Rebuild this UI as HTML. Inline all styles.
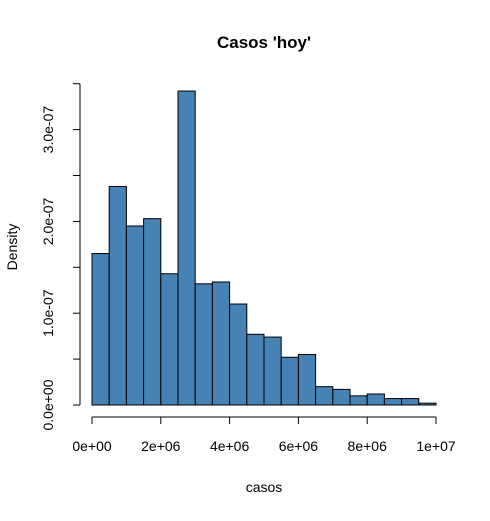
<!DOCTYPE html>
<html><head><meta charset="utf-8"><style>
body{margin:0;background:#fff;}
svg text{font-family:"Liberation Sans",sans-serif;fill:#000;}
</style></head><body>
<svg id="chart" width="490" height="516" xmlns="http://www.w3.org/2000/svg">
<text x="264" y="48" text-anchor="middle" font-size="17" font-weight="bold">Casos 'hoy'</text>
<text x="264" y="492" text-anchor="middle" font-size="14">casos</text>
<text transform="translate(17,247) rotate(-90)" text-anchor="middle" font-size="14">Density</text>
<g id="bars"></g><g id="xaxis"></g><g id="yaxis"></g>
</svg>
<script>
const binEdgesStart = 0;
const binWidth = 500000;
const densities = [1.65e-7,2.38e-7,1.95e-7,2.03e-7,1.43e-7,3.42e-7,1.32e-7,1.34e-7,1.10e-7,0.77e-7,0.74e-7,0.52e-7,0.55e-7,0.20e-7,0.17e-7,0.10e-7,0.12e-7,0.07e-7,0.07e-7,0.02e-7];
const xTicks = [0,2e6,4e6,6e6,8e6,1e7];
const xTickLabels = ["0e+00","2e+06","4e+06","6e+06","8e+06","1e+07"];
const yTicks = [0,0.5e-7,1e-7,1.5e-7,2e-7,2.5e-7,3e-7,3.5e-7];
const yTickLabels = {0:"0.0e+00",2:"1.0e-07",4:"2.0e-07",6:"3.0e-07"};

const x = v => 92 + v/1e7*344;
const y = v => 405 - v/1e-7*91.8;
const NS="http://www.w3.org/2000/svg";
function mk(tag,attrs,parent){const e=document.createElementNS(NS,tag);for(const k in attrs)e.setAttribute(k,attrs[k]);parent.appendChild(e);return e;}
const bars=document.getElementById('bars');
densities.forEach((d,i)=>{
  const x0=x(binEdgesStart+i*binWidth), x1=x(binEdgesStart+(i+1)*binWidth);
  const r=mk('rect',{x:x0,y:y(d),width:x1-x0,height:y(0)-y(d),fill:'#4682b4',stroke:'#000','stroke-width':1},bars);
  
  
});
const xa=document.getElementById('xaxis');


mk('line',{x1:x(xTicks[0]),x2:x(xTicks[xTicks.length-1]),y1:417,y2:417,stroke:'#000'},xa);
xTicks.forEach((t,i)=>{
  mk('line',{x1:x(t),x2:x(t),y1:417,y2:424,stroke:'#000'},xa);
  const tx=mk('text',{x:x(t),y:451,'text-anchor':'middle','font-size':14},xa);
  tx.textContent=xTickLabels[i];
  
  
});
const ya=document.getElementById('yaxis');


mk('line',{x1:80,x2:80,y1:y(yTicks[0]),y2:y(yTicks[yTicks.length-1]),stroke:'#000'},ya);
yTicks.forEach((t,i)=>{
  mk('line',{x1:73,x2:80,y1:y(t),y2:y(t),stroke:'#000'},ya);
  if(yTickLabels[i]){
    const tx=mk('text',{transform:`translate(53,${y(t)}) rotate(-90)`,'text-anchor':'middle','font-size':14},ya);
    tx.textContent=yTickLabels[i];
    
    
  }
});
</script>
</body></html>
